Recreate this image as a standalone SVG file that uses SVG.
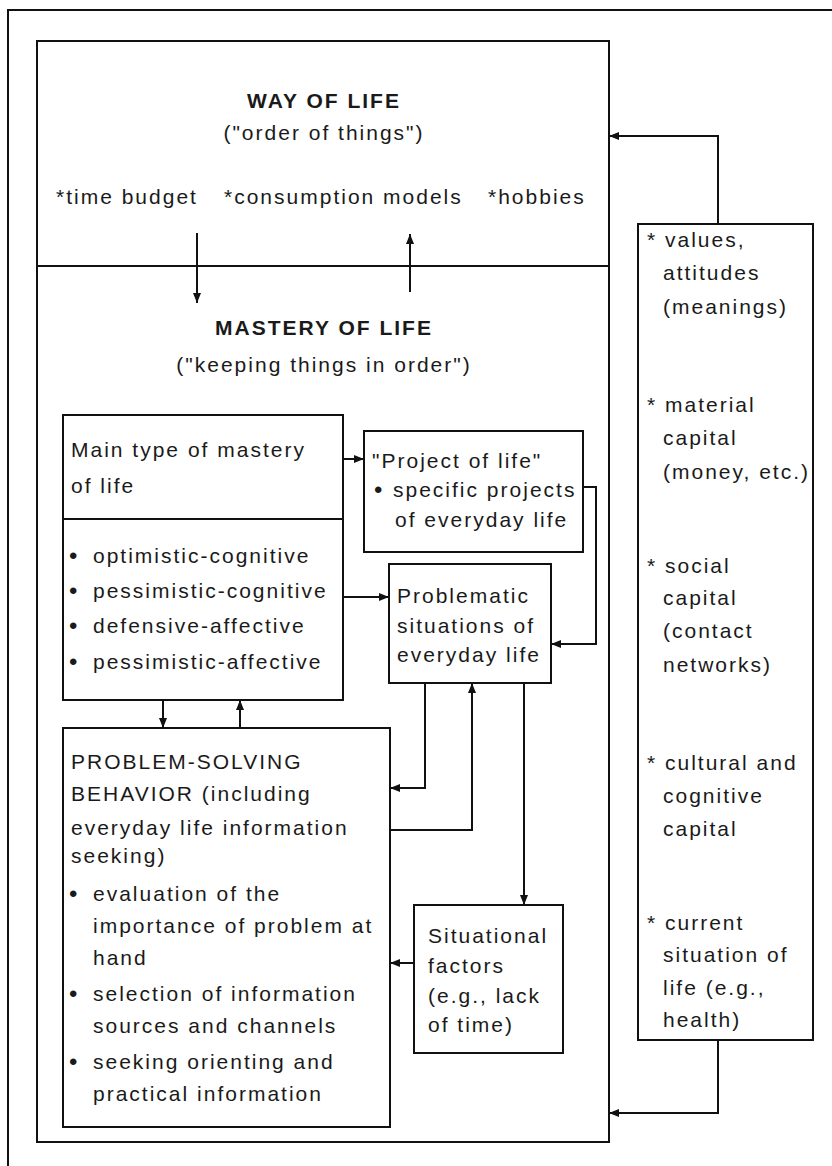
<svg xmlns="http://www.w3.org/2000/svg" width="832" height="1166" viewBox="0 0 832 1166">
<style>
  .box { fill: none; stroke: #111; stroke-width: 2; }
  .ln { fill: none; stroke: #111; stroke-width: 2; }
  .t { font-family: "Liberation Sans", Arial, Helvetica, sans-serif; font-size: 21px; letter-spacing: 2px; fill: #1a1a1a; }
  .b { font-weight: bold; }
  .c { text-anchor: middle; }
  .dot { font-size: 24px; }
</style>
<defs>
  <marker id="ah" viewBox="0 0 10 8" markerUnits="userSpaceOnUse" markerWidth="10" markerHeight="8" refX="10" refY="4" orient="auto">
    <path d="M0,0 L10,4 L0,8 z" fill="#111"/>
  </marker>
</defs>
<rect x="0" y="0" width="832" height="1166" fill="#fff"/>

<g id="frame">
  <path class="ln" d="M8,1166 V10 H832"/>
</g>

<g id="main-box">
  <rect class="box" x="37" y="41" width="572" height="1101"/>
  <line class="ln" x1="37" y1="266" x2="609" y2="266"/>
</g>

<g id="way-of-life">
  <text class="t b c" x="324" y="108">WAY OF LIFE</text>
  <text class="t c" x="324" y="140">("order of things")</text>
  <text class="t" x="56" y="204">*time budget</text>
  <text class="t" x="224" y="204">*consumption models</text>
  <text class="t" x="488" y="204">*hobbies</text>
</g>

<g id="mastery-of-life">
  <text class="t b c" x="324" y="335">MASTERY OF LIFE</text>
  <text class="t c" x="324" y="372">("keeping things in order")</text>
</g>

<g id="main-type">
  <rect class="box" x="63" y="415" width="280" height="285"/>
  <line class="ln" x1="63" y1="519" x2="343" y2="519"/>
  <text class="t"><tspan x="71" y="457">Main type of mastery</tspan><tspan x="71" y="493">of life</tspan></text>
  <text class="t">
    <tspan class="dot" x="69" y="564">•</tspan><tspan x="93" y="563">optimistic-cognitive</tspan>
    <tspan class="dot" x="69" y="599">•</tspan><tspan x="93" y="598">pessimistic-cognitive</tspan>
    <tspan class="dot" x="69" y="634">•</tspan><tspan x="93" y="633">defensive-affective</tspan>
    <tspan class="dot" x="69" y="670">•</tspan><tspan x="93" y="669">pessimistic-affective</tspan>
  </text>
</g>

<g id="project-of-life">
  <rect class="box" x="364" y="431" width="219" height="121"/>
  <text class="t">
    <tspan x="372" y="468">"Project of life"</tspan>
    <tspan class="dot" x="374" y="498">•</tspan><tspan x="393" y="497">specific projects</tspan>
    <tspan x="395" y="527">of everyday life</tspan>
  </text>
</g>

<g id="problematic-situations">
  <rect class="box" x="389" y="564" width="162" height="119"/>
  <text class="t">
    <tspan x="397" y="603">Problematic</tspan>
    <tspan x="397" y="633">situations of</tspan>
    <tspan x="397" y="662">everyday life</tspan>
  </text>
</g>

<g id="problem-solving">
  <rect class="box" x="63" y="728" width="327" height="399"/>
  <text class="t">
    <tspan x="71" y="769">PROBLEM-SOLVING</tspan>
    <tspan x="71" y="801">BEHAVIOR (including</tspan>
    <tspan x="71" y="835">everyday life information</tspan>
    <tspan x="71" y="863">seeking)</tspan>
    <tspan class="dot" x="69" y="902">•</tspan><tspan x="93" y="901">evaluation of the</tspan>
    <tspan x="93" y="933">importance of problem at</tspan>
    <tspan x="93" y="965">hand</tspan>
    <tspan class="dot" x="69" y="1002">•</tspan><tspan x="93" y="1001">selection of information</tspan>
    <tspan x="93" y="1033">sources and channels</tspan>
    <tspan class="dot" x="69" y="1070">•</tspan><tspan x="93" y="1069">seeking orienting and</tspan>
    <tspan x="93" y="1101">practical information</tspan>
  </text>
</g>

<g id="situational-factors">
  <rect class="box" x="414" y="905" width="149" height="148"/>
  <text class="t">
    <tspan x="428" y="943">Situational</tspan>
    <tspan x="428" y="973">factors</tspan>
    <tspan x="428" y="1003">(e.g., lack</tspan>
    <tspan x="428" y="1032">of time)</tspan>
  </text>
</g>

<g id="resources">
  <rect class="box" x="638" y="224" width="175" height="816"/>
  <text class="t">
    <tspan x="647" y="247">* values,</tspan>
    <tspan x="663" y="280">attitudes</tspan>
    <tspan x="663" y="314">(meanings)</tspan>
    <tspan x="647" y="412">* material</tspan>
    <tspan x="663" y="445">capital</tspan>
    <tspan x="663" y="479">(money, etc.)</tspan>
    <tspan x="647" y="573">* social</tspan>
    <tspan x="663" y="605">capital</tspan>
    <tspan x="663" y="638">(contact</tspan>
    <tspan x="663" y="672">networks)</tspan>
    <tspan x="647" y="770">* cultural and</tspan>
    <tspan x="663" y="803">cognitive</tspan>
    <tspan x="663" y="836">capital</tspan>
    <tspan x="647" y="930">* current</tspan>
    <tspan x="663" y="962">situation of</tspan>
    <tspan x="663" y="995">life (e.g.,</tspan>
    <tspan x="663" y="1027">health)</tspan>
  </text>
</g>

<g id="connectors">
  <path class="ln" d="M197,233 V303" marker-end="url(#ah)"/>
  <path class="ln" d="M410,292 V234" marker-end="url(#ah)"/>
  <path class="ln" d="M343,459 H364" marker-end="url(#ah)"/>
  <path class="ln" d="M343,597 H389" marker-end="url(#ah)"/>
  <path class="ln" d="M583,487 H596 V644 H551" marker-end="url(#ah)"/>
  <path class="ln" d="M425,683 V788 H390" marker-end="url(#ah)"/>
  <path class="ln" d="M390,830 H472 V683" marker-end="url(#ah)"/>
  <path class="ln" d="M524,683 V905" marker-end="url(#ah)"/>
  <path class="ln" d="M414,963 H390" marker-end="url(#ah)"/>
  <path class="ln" d="M163,700 V728" marker-end="url(#ah)"/>
  <path class="ln" d="M240,728 V700" marker-end="url(#ah)"/>
  <path class="ln" d="M718,224 V136 H609" marker-end="url(#ah)"/>
  <path class="ln" d="M718,1040 V1113 H609" marker-end="url(#ah)"/>
</g>
</svg>
